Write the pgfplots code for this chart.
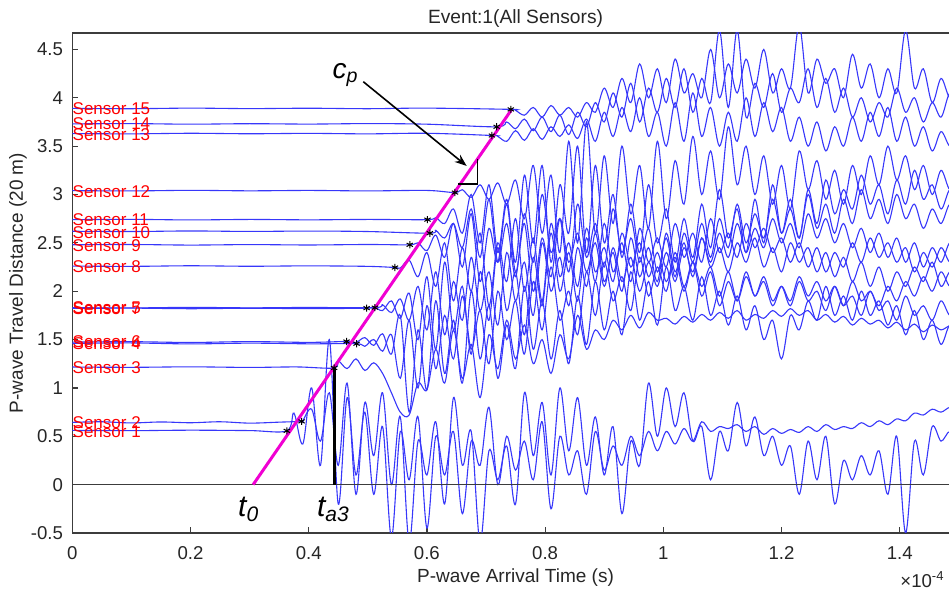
\documentclass[border=0pt]{standalone}
\usepackage{fontspec}
\setmainfont{Liberation Sans}
\usepackage{pgfplots}
\pgfplotsset{compat=1.18}
\usetikzlibrary{arrows.meta}
\definecolor{trace}{RGB}{55,55,250}
\definecolor{magline}{RGB}{240,0,210}
\definecolor{axgray}{RGB}{60,60,60}
\tikzset{tr/.style={trace,line width=0.55pt,smooth,tension=0.55}}
\begin{document}
\begin{tikzpicture}
\begin{axis}[
 at={(0,0)},anchor=south west,
 width=443.25pt,height=250pt,scale only axis,
 xmin=0,xmax=1.5,ymin=-0.5,ymax=4.67,
 xtick={0,0.2,0.4,0.6,0.8,1,1.2,1.4},
 xticklabels={0,0.2,0.4,0.6,0.8,1,1.2,1.4},
 ytick={-0.5,0,0.5,1,1.5,2,2.5,3,3.5,4,4.5},
 yticklabels={-0.5,0,0.5,1,1.5,2,2.5,3,3.5,4,4.5},
 tick align=inside, tick pos=left,
 major tick length=3pt,
 axis line style={axgray,line width=0.7pt},
 tick style={axgray,line width=0.6pt},
 tick label style={font=\fontsize{9.3}{10}\selectfont,text=black!85,inner sep=0pt},
 x tick label style={anchor=base,yshift=-13.5pt},
 y tick label style={anchor=east,xshift=-4.5pt},
 title={Event:1(All Sensors)},
 title style={at={(axis description cs:0.5,1)},anchor=base,inner sep=0pt,yshift=-1.5pt,font=\fontsize{9.6}{10}\selectfont,text=black!85},
 xlabel={P-wave Arrival Time (s)},
 xlabel style={at={(axis description cs:0.5,0)},anchor=base,inner sep=0pt,yshift=-25pt,font=\fontsize{9.5}{10}\selectfont,text=black!85},
 ylabel={P-wave Travel Distance (20 m)},
 ylabel style={at={(axis description cs:-0.0613,0.5)},anchor=center,inner sep=0pt,font=\fontsize{9.5}{10}\selectfont,text=black!85},
]
% Sensor 1
\addplot[tr] coordinates {(0,0.561)(0.1,0.558)(0.2,0.563)(0.3,0.559)(0.363,0.556)
(0.375,0.74)(0.39,0.42)(0.405,1.0)(0.42,0.2)(0.435,1.5)(0.45,-0.2)(0.465,0.9)(0.48,0.1)(0.495,0.75)(0.51,-0.1)(0.525,0.6)(0.54,-0.55)(0.555,0.55)(0.57,0.05)(0.585,0.7)(0.6,-0.45)(0.615,0.5)(0.63,0.1)(0.645,0.55)(0.66,-0.3)(0.675,0.45)(0.69,0.2)(0.705,0.8)(0.72,0.0)(0.735,0.5)(0.75,0.15)(0.765,0.45)(0.78,0.05)(0.795,0.65)(0.81,-0.25)(0.825,0.5)(0.84,0.1)(0.855,0.35)(0.87,-0.1)(0.885,0.55)(0.9,0.15)(0.915,0.4)(0.93,0.2)(0.945,0.5)(0.96,0.3)(0.975,0.55)(0.99,0.35)(1.005,0.55)(1.02,0.42)(1.035,0.58)(1.05,0.45)(1.065,0.65)(1.08,0.55)(1.095,0.6)(1.11,0.58)(1.125,0.62)(1.14,0.55)(1.155,0.6)(1.17,0.52)(1.185,0.58)(1.2,0.53)(1.215,0.57)(1.23,0.54)(1.245,0.6)(1.26,0.55)(1.275,0.62)(1.29,0.57)(1.305,0.6)(1.32,0.58)(1.335,0.64)(1.35,0.6)(1.365,0.66)(1.38,0.62)(1.395,0.68)(1.41,0.66)(1.425,0.74)(1.44,0.72)(1.455,0.78)(1.47,0.75)(1.485,0.8)(1.5,0.78)};
% Sensor 2
\addplot[tr] coordinates {(0,0.644)(0.05,0.65)(0.1,0.638)(0.15,0.648)(0.2,0.64)(0.25,0.65)(0.3,0.636)(0.35,0.646)(0.388,0.654)
(0.39,0.66)(0.405,0.78)(0.42,0.45)(0.435,0.95)(0.45,0.2)(0.465,1.05)(0.48,-0.1)(0.495,0.85)(0.51,0.3)(0.525,0.95)(0.54,0.0)(0.555,0.7)(0.57,-0.6)(0.585,0.45)(0.6,0.1)(0.615,0.65)(0.63,-0.2)(0.645,0.9)(0.66,0.2)(0.675,0.55)(0.69,-0.6)(0.705,0.35)(0.72,0.05)(0.735,0.4)(0.75,-0.2)(0.765,0.95)(0.78,0.3)(0.795,0.85)(0.81,0.1)(0.825,1.0)(0.84,0.35)(0.855,0.9)(0.87,0.2)(0.885,0.7)(0.9,0.1)(0.915,0.6)(0.93,-0.3)(0.945,0.45)(0.96,0.2)(0.975,1.05)(0.99,0.5)(1.005,1.0)(1.02,0.6)(1.035,0.95)(1.05,0.45)(1.065,0.6)(1.08,0.05)(1.095,0.55)(1.11,0.35)(1.125,0.85)(1.14,0.4)(1.155,0.7)(1.17,0.3)(1.185,0.5)(1.2,0.2)(1.215,0.4)(1.23,-0.1)(1.245,0.45)(1.26,0.05)(1.275,0.5)(1.29,-0.2)(1.305,0.25)(1.32,0.05)(1.335,0.3)(1.35,0.1)(1.365,0.35)(1.38,-0.1)(1.395,0.5)(1.41,-0.5)(1.425,0.45)(1.44,0.1)(1.455,0.6)(1.47,0.45)(1.485,0.55)(1.5,0.4)};
% Sensor 3
\addplot[tr] coordinates {(0,1.216)(0.1,1.213)(0.2,1.218)(0.3,1.212)(0.38,1.217)(0.443,1.206)
(0.45,1.28)(0.465,1.2)(0.48,1.3)(0.495,1.18)(0.51,1.26)(0.525,1.15)(0.54,0.95)(0.555,0.75)(0.57,0.72)(0.585,1.05)(0.6,0.98)(0.615,1.4)(0.63,1.05)(0.645,1.6)(0.66,1.1)(0.675,1.45)(0.69,0.9)(0.705,1.55)(0.72,1.2)(0.735,1.7)(0.75,1.3)(0.765,1.65)(0.78,1.25)(0.795,1.5)(0.81,1.15)(0.825,1.55)(0.84,1.3)(0.855,1.75)(0.87,1.4)(0.885,1.6)(0.9,1.5)(0.915,1.7)(0.93,1.6)(0.945,1.75)(0.96,1.62)(0.975,1.78)(0.99,1.7)(1.005,1.72)(1.02,1.66)(1.035,1.74)(1.05,1.68)(1.065,1.76)(1.08,1.7)(1.095,1.78)(1.11,1.72)(1.125,1.8)(1.14,1.7)(1.155,1.76)(1.17,1.72)(1.185,1.8)(1.2,1.74)(1.215,1.82)(1.23,1.75)(1.245,1.8)(1.26,1.7)(1.275,1.76)(1.29,1.68)(1.305,1.74)(1.32,1.65)(1.335,1.72)(1.35,1.66)(1.365,1.7)(1.38,1.62)(1.395,1.68)(1.41,1.6)(1.425,1.66)(1.44,1.58)(1.455,1.65)(1.47,1.6)(1.485,1.64)(1.5,1.6)};
% Sensor 4
\addplot[tr] coordinates {(0,1.46)(0.1,1.465)(0.2,1.455)(0.3,1.463)(0.4,1.456)(0.481,1.457)
(0.495,1.43)(0.51,1.5)(0.525,1.38)(0.54,1.55)(0.555,1.1)(0.57,1.7)(0.585,1.0)(0.6,1.85)(0.615,1.2)(0.63,1.75)(0.645,1.3)(0.66,1.95)(0.675,1.4)(0.69,1.8)(0.705,1.25)(0.72,2.0)(0.735,1.5)(0.75,1.9)(0.765,1.35)(0.78,2.1)(0.795,1.6)(0.81,2.25)(0.825,1.7)(0.84,2.0)(0.855,1.55)(0.87,2.2)(0.885,1.75)(0.9,2.3)(0.915,1.9)(0.93,2.15)(0.945,1.8)(0.96,2.35)(0.975,1.95)(0.99,2.25)(1.005,2.0)(1.02,2.4)(1.035,2.05)(1.05,2.3)(1.065,1.95)(1.08,2.2)(1.095,1.85)(1.11,2.1)(1.125,1.9)(1.14,2.2)(1.155,1.95)(1.17,2.15)(1.185,1.9)(1.2,2.05)(1.215,1.85)(1.23,2.1)(1.245,1.9)(1.26,2.0)(1.275,1.8)(1.29,2.05)(1.305,1.85)(1.32,1.95)(1.335,1.75)(1.35,2.0)(1.365,1.8)(1.38,1.9)(1.395,1.7)(1.41,1.95)(1.425,1.75)(1.44,1.85)(1.455,1.7)(1.47,1.9)(1.485,1.75)(1.5,1.85)};
% Sensor 5
\addplot[tr] coordinates {(0,1.83)(0.1,1.827)(0.2,1.833)(0.3,1.828)(0.4,1.832)(0.512,1.83)
(0.525,1.86)(0.54,1.78)(0.555,1.92)(0.57,1.7)(0.585,2.05)(0.6,1.6)(0.615,2.2)(0.63,1.55)(0.645,2.1)(0.66,1.7)(0.675,2.35)(0.69,1.8)(0.705,2.2)(0.72,1.65)(0.735,2.4)(0.75,1.9)(0.765,2.3)(0.78,1.75)(0.795,2.5)(0.81,2.0)(0.825,2.35)(0.84,1.85)(0.855,2.45)(0.87,2.05)(0.885,2.6)(0.9,2.1)(0.915,2.4)(0.93,2.0)(0.945,2.55)(0.96,2.15)(0.975,2.45)(0.99,2.1)(1.005,2.6)(1.02,2.2)(1.035,2.5)(1.05,2.15)(1.065,2.55)(1.08,2.25)(1.095,2.45)(1.11,2.2)(1.125,2.5)(1.14,2.3)(1.155,2.55)(1.17,2.25)(1.185,2.45)(1.2,2.2)(1.215,2.5)(1.23,2.3)(1.245,2.45)(1.26,2.2)(1.275,2.4)(1.29,2.15)(1.305,2.35)(1.32,2.1)(1.335,2.3)(1.35,2.05)(1.365,2.25)(1.38,2.0)(1.395,2.2)(1.41,2.05)(1.425,2.25)(1.44,2.1)(1.455,2.3)(1.47,2.05)(1.485,2.2)(1.5,2.1)};
% Sensor 6
\addplot[tr] coordinates {(0,1.474)(0.1,1.478)(0.2,1.47)(0.3,1.479)(0.4,1.471)(0.464,1.48)
(0.48,1.47)(0.495,1.52)(0.51,1.44)(0.525,1.56)(0.54,1.35)(0.555,1.75)(0.57,0.75)(0.585,1.6)(0.6,0.98)(0.615,1.9)(0.63,1.15)(0.645,1.7)(0.66,1.05)(0.675,2.0)(0.69,1.3)(0.705,1.85)(0.72,1.1)(0.735,1.65)(0.75,1.2)(0.765,2.05)(0.78,1.4)(0.795,1.9)(0.81,1.3)(0.825,1.8)(0.84,1.25)(0.855,1.95)(0.87,1.45)(0.885,2.1)(0.9,1.6)(0.915,2.0)(0.93,1.55)(0.945,2.2)(0.96,1.7)(0.975,2.1)(0.99,1.65)(1.005,2.25)(1.02,1.8)(1.035,2.05)(1.05,1.7)(1.065,2.15)(1.08,1.75)(1.095,2.0)(1.11,1.65)(1.125,1.95)(1.14,1.6)(1.155,1.85)(1.17,1.5)(1.185,1.7)(1.2,1.3)(1.215,1.75)(1.23,1.6)(1.245,1.9)(1.26,1.7)(1.275,2.05)(1.29,1.75)(1.305,1.95)(1.32,1.7)(1.335,2.0)(1.35,1.75)(1.365,1.9)(1.38,1.65)(1.395,1.85)(1.41,1.55)(1.425,1.8)(1.44,1.5)(1.455,1.7)(1.47,1.45)(1.485,1.65)(1.5,1.5)};
% Sensor 7
\addplot[tr] coordinates {(0,1.822)(0.1,1.825)(0.2,1.819)(0.3,1.824)(0.4,1.82)(0.498,1.825)
(0.51,1.84)(0.525,1.8)(0.54,1.9)(0.555,1.72)(0.57,1.98)(0.585,1.5)(0.6,2.15)(0.615,1.4)(0.63,2.3)(0.645,1.6)(0.66,2.05)(0.675,1.35)(0.69,2.2)(0.705,1.7)(0.72,2.45)(0.735,1.8)(0.75,2.2)(0.765,1.55)(0.78,2.35)(0.795,1.85)(0.81,2.6)(0.825,2.0)(0.84,2.4)(0.855,1.9)(0.87,2.55)(0.885,2.1)(0.9,2.7)(0.915,2.2)(0.93,2.5)(0.945,2.1)(0.96,2.65)(0.975,2.3)(0.99,2.55)(1.005,2.25)(1.02,2.7)(1.035,2.35)(1.05,2.6)(1.065,2.3)(1.08,2.75)(1.095,2.4)(1.11,2.6)(1.125,2.35)(1.14,2.7)(1.155,2.45)(1.17,2.65)(1.185,2.4)(1.2,2.55)(1.215,2.3)(1.23,2.5)(1.245,2.25)(1.26,2.45)(1.275,2.2)(1.29,2.4)(1.305,2.25)(1.32,2.5)(1.335,2.3)(1.35,2.55)(1.365,2.35)(1.38,2.5)(1.395,2.3)(1.41,2.45)(1.425,2.2)(1.44,2.4)(1.455,2.25)(1.47,2.45)(1.485,2.3)(1.5,2.4)};
% Sensor 8
\addplot[tr] coordinates {(0,2.26)(0.1,2.257)(0.2,2.263)(0.3,2.258)(0.4,2.262)(0.5,2.257)(0.546,2.245)
(0.555,2.24)(0.57,2.32)(0.585,2.15)(0.6,2.4)(0.615,2.05)(0.63,2.5)(0.645,1.9)(0.66,2.45)(0.675,2.0)(0.69,2.6)(0.705,1.85)(0.72,2.5)(0.735,2.1)(0.75,2.75)(0.765,2.0)(0.78,2.55)(0.795,1.9)(0.81,2.7)(0.825,2.15)(0.84,2.5)(0.855,2.05)(0.87,2.65)(0.885,2.2)(0.9,2.45)(0.915,2.1)(0.93,2.6)(0.945,2.25)(0.96,2.5)(0.975,2.15)(0.99,2.4)(1.005,2.1)(1.02,2.35)(1.035,2.0)(1.05,2.3)(1.065,2.05)(1.08,2.25)(1.095,1.95)(1.11,2.2)(1.125,1.9)(1.14,2.15)(1.155,1.95)(1.17,2.1)(1.185,1.85)(1.2,2.05)(1.215,1.9)(1.23,2.15)(1.245,1.95)(1.26,2.1)(1.275,1.9)(1.29,2.05)(1.305,1.85)(1.32,2.1)(1.335,1.9)(1.35,2.0)(1.365,1.85)(1.38,2.05)(1.395,1.9)(1.41,2.1)(1.425,1.95)(1.44,2.15)(1.455,2.0)(1.47,2.2)(1.485,2.05)(1.5,2.15)};
% Sensor 9
\addplot[tr] coordinates {(0,2.48)(0.1,2.483)(0.2,2.477)(0.3,2.482)(0.4,2.478)(0.5,2.483)(0.571,2.48)
(0.585,2.5)(0.6,2.42)(0.615,2.58)(0.63,2.35)(0.645,2.7)(0.66,2.25)(0.675,2.8)(0.69,2.1)(0.705,2.65)(0.72,2.3)(0.735,2.9)(0.75,2.2)(0.765,2.7)(0.78,2.0)(0.795,2.55)(0.81,2.15)(0.825,2.75)(0.84,2.3)(0.855,2.6)(0.87,2.2)(0.885,2.5)(0.9,2.05)(0.915,2.45)(0.93,2.1)(0.945,2.35)(0.96,2.0)(0.975,2.3)(0.99,2.05)(1.005,2.4)(1.02,2.1)(1.035,2.45)(1.05,2.2)(1.065,2.55)(1.08,2.3)(1.095,2.6)(1.11,2.35)(1.125,2.7)(1.14,2.4)(1.155,2.65)(1.17,2.45)(1.185,2.75)(1.2,2.5)(1.215,2.7)(1.23,2.45)(1.245,2.8)(1.26,2.55)(1.275,2.75)(1.29,2.5)(1.305,2.7)(1.32,2.45)(1.335,2.65)(1.35,2.4)(1.365,2.6)(1.38,2.35)(1.395,2.55)(1.41,2.3)(1.425,2.5)(1.44,2.25)(1.455,2.45)(1.47,2.3)(1.485,2.5)(1.5,2.35)};
% Sensor 10
\addplot[tr] coordinates {(0,2.62)(0.1,2.617)(0.2,2.623)(0.3,2.618)(0.4,2.622)(0.5,2.617)(0.605,2.6)
(0.615,2.63)(0.63,2.55)(0.645,2.7)(0.66,2.45)(0.675,2.85)(0.69,2.35)(0.705,2.95)(0.72,2.3)(0.735,2.7)(0.75,2.15)(0.765,2.8)(0.78,2.3)(0.795,3.0)(0.81,2.4)(0.825,2.75)(0.84,2.2)(0.855,2.9)(0.87,2.35)(0.885,2.7)(0.9,2.25)(0.915,2.85)(0.93,2.4)(0.945,2.75)(0.96,2.3)(0.975,2.65)(0.99,2.2)(1.005,2.55)(1.02,2.15)(1.035,2.6)(1.05,2.3)(1.065,2.7)(1.08,2.35)(1.095,2.75)(1.11,2.45)(1.125,2.9)(1.14,2.5)(1.155,2.8)(1.17,2.55)(1.185,2.95)(1.2,2.6)(1.215,2.85)(1.23,2.55)(1.245,3.0)(1.26,2.65)(1.275,2.9)(1.29,2.6)(1.305,2.95)(1.32,2.7)(1.335,3.05)(1.35,2.75)(1.365,2.95)(1.38,2.7)(1.395,3.0)(1.41,2.75)(1.425,2.9)(1.44,2.65)(1.455,2.85)(1.47,2.7)(1.485,2.9)(1.5,2.75)};
% Sensor 11
\addplot[tr] coordinates {(0,2.74)(0.1,2.743)(0.2,2.737)(0.3,2.742)(0.4,2.738)(0.5,2.742)(0.601,2.74)
(0.615,2.76)(0.63,2.7)(0.645,2.85)(0.66,2.6)(0.675,3.0)(0.69,2.5)(0.705,3.1)(0.72,2.4)(0.735,2.95)(0.75,2.3)(0.765,3.2)(0.78,2.5)(0.795,3.3)(0.81,2.3)(0.825,3.1)(0.84,2.6)(0.855,3.5)(0.87,2.4)(0.885,3.3)(0.9,2.5)(0.915,3.0)(0.93,2.35)(0.945,2.9)(0.96,2.4)(0.975,3.1)(0.99,2.5)(1.005,2.85)(1.02,2.3)(1.035,2.75)(1.05,2.35)(1.065,2.9)(1.08,2.45)(1.095,3.05)(1.11,2.55)(1.125,2.85)(1.14,2.4)(1.155,2.95)(1.17,2.5)(1.185,3.1)(1.2,2.6)(1.215,2.95)(1.23,2.55)(1.245,3.05)(1.26,2.7)(1.275,3.15)(1.29,2.8)(1.305,3.05)(1.32,2.85)(1.335,3.2)(1.35,2.9)(1.365,3.1)(1.38,2.8)(1.395,3.15)(1.41,2.9)(1.425,3.25)(1.44,2.95)(1.455,3.1)(1.47,2.85)(1.485,3.05)(1.5,2.9)};
% Sensor 12
\addplot[tr] coordinates {(0,3.04)(0.1,3.037)(0.2,3.043)(0.3,3.038)(0.4,3.042)(0.5,3.037)(0.6,3.042)(0.6475,3.02)
(0.66,3.05)(0.675,2.97)(0.69,3.1)(0.705,2.95)(0.72,3.12)(0.735,2.9)(0.75,3.15)(0.765,2.75)(0.78,3.3)(0.795,2.6)(0.81,3.2)(0.825,2.4)(0.84,3.55)(0.855,2.5)(0.87,3.75)(0.885,2.6)(0.9,3.4)(0.915,2.7)(0.93,3.5)(0.945,2.8)(0.96,3.3)(0.975,2.65)(0.99,3.55)(1.005,2.75)(1.02,3.35)(1.035,2.9)(1.05,3.6)(1.065,3.0)(1.08,3.45)(1.095,2.95)(1.11,3.7)(1.125,3.1)(1.14,3.5)(1.155,3.0)(1.17,3.4)(1.185,2.9)(1.2,3.3)(1.215,2.85)(1.23,3.45)(1.245,3.05)(1.26,3.35)(1.275,2.95)(1.29,3.25)(1.305,2.9)(1.32,3.3)(1.335,3.0)(1.35,3.4)(1.365,3.1)(1.38,3.5)(1.395,3.15)(1.41,3.4)(1.425,3.05)(1.44,3.3)(1.455,3.0)(1.47,3.25)(1.485,3.05)(1.5,3.2)};
% Sensor 13
\addplot[tr] coordinates {(0,3.63)(0.1,3.627)(0.2,3.633)(0.3,3.628)(0.4,3.632)(0.5,3.627)(0.6,3.633)(0.71,3.61)
(0.72,3.6)(0.735,3.55)(0.75,3.66)(0.765,3.56)(0.78,3.68)(0.795,3.57)(0.81,3.7)(0.825,3.6)(0.84,3.72)(0.855,3.58)(0.87,3.78)(0.885,3.55)(0.9,3.85)(0.915,3.6)(0.93,3.9)(0.945,3.65)(0.96,4.0)(0.975,3.6)(0.99,3.85)(1.005,3.5)(1.02,3.95)(1.035,3.55)(1.05,4.05)(1.065,3.6)(1.08,3.9)(1.095,3.5)(1.11,3.85)(1.125,3.55)(1.14,4.0)(1.155,3.6)(1.17,3.95)(1.185,3.65)(1.2,3.9)(1.215,3.55)(1.23,3.8)(1.245,3.5)(1.26,3.75)(1.275,3.45)(1.29,3.7)(1.305,3.5)(1.32,3.8)(1.335,3.55)(1.35,3.85)(1.365,3.6)(1.38,3.9)(1.395,3.55)(1.41,3.8)(1.425,3.5)(1.44,3.7)(1.455,3.45)(1.47,3.65)(1.485,3.5)(1.5,3.6)};
% Sensor 14
\addplot[tr] coordinates {(0,3.73)(0.1,3.733)(0.2,3.727)(0.3,3.732)(0.4,3.728)(0.5,3.733)(0.6,3.727)(0.718,3.7)
(0.735,3.75)(0.75,3.68)(0.765,3.78)(0.78,3.66)(0.795,3.8)(0.81,3.65)(0.825,3.82)(0.84,3.62)(0.855,3.85)(0.87,3.7)(0.885,3.95)(0.9,3.75)(0.915,4.05)(0.93,3.8)(0.945,4.15)(0.96,3.75)(0.975,4.1)(0.99,3.85)(1.005,4.2)(1.02,3.9)(1.035,4.3)(1.05,3.85)(1.065,4.2)(1.08,3.95)(1.095,4.7)(1.11,3.9)(1.125,4.7)(1.14,3.8)(1.155,4.15)(1.17,3.9)(1.185,4.25)(1.2,3.85)(1.215,4.1)(1.23,3.95)(1.245,4.3)(1.26,3.9)(1.275,4.2)(1.29,3.85)(1.305,4.1)(1.32,3.8)(1.335,4.0)(1.35,3.75)(1.365,3.95)(1.38,3.8)(1.395,4.1)(1.41,3.85)(1.425,4.0)(1.44,3.75)(1.455,3.95)(1.47,3.8)(1.485,4.05)(1.5,3.9)};
% Sensor 15
\addplot[tr] coordinates {(0,3.89)(0.1,3.887)(0.2,3.893)(0.3,3.888)(0.4,3.892)(0.5,3.887)(0.6,3.893)(0.742,3.88)
(0.75,3.87)(0.765,3.82)(0.78,3.9)(0.795,3.8)(0.81,3.92)(0.825,3.82)(0.84,3.9)(0.855,3.8)(0.87,3.95)(0.885,3.85)(0.9,4.1)(0.915,3.9)(0.93,4.2)(0.945,3.95)(0.96,4.35)(0.975,4.0)(0.99,4.3)(1.005,3.95)(1.02,4.4)(1.035,4.05)(1.05,4.25)(1.065,4.0)(1.08,4.5)(1.095,4.0)(1.11,4.35)(1.125,4.05)(1.14,4.4)(1.155,4.1)(1.17,4.5)(1.185,4.05)(1.2,4.3)(1.215,4.1)(1.23,4.75)(1.245,4.05)(1.26,4.4)(1.275,4.15)(1.29,4.3)(1.305,4.0)(1.32,4.45)(1.335,4.1)(1.35,4.35)(1.365,4.0)(1.38,4.3)(1.395,4.05)(1.41,4.7)(1.425,4.1)(1.44,4.3)(1.455,3.95)(1.47,4.2)(1.485,4.0)(1.5,4.15)};
% zero line
\addplot[axgray,line width=0.7pt] coordinates {(0,0)(1.5,0)};
% sensor labels
\begin{scope}[every node/.style={red,anchor=west,inner sep=0pt,font=\fontsize{8.5}{9}\selectfont}]
\node at (axis cs:0,3.89) {Sensor 15};
\node at (axis cs:0,3.735) {Sensor 14};
\node at (axis cs:0,3.62) {Sensor 13};
\node at (axis cs:0,3.03) {Sensor 12};
\node at (axis cs:0,2.74) {Sensor 11};
\node at (axis cs:0,2.61) {Sensor 10};
\node at (axis cs:0,2.47) {Sensor 9};
\node at (axis cs:0,2.25) {Sensor 8};
\node at (axis cs:0,1.835) {Sensor 5};
\node at (axis cs:0,1.815) {Sensor 7};
\node at (axis cs:0,1.455) {Sensor 4};
\node at (axis cs:0,1.475) {Sensor 6};
\node at (axis cs:0,1.21) {Sensor 3};
\node at (axis cs:0,0.645) {Sensor 2};
\node at (axis cs:0,0.55) {Sensor 1};
\end{scope}
% magenta fit line
\addplot[magline,line width=1.5pt] coordinates {(0.306,0)(0.7435,3.88)};
% arrival marks
\addplot[only marks,mark=asterisk,mark size=1.8pt,black,mark options={line width=0.5pt}] coordinates {(0.363,0.556)(0.388,0.654)(0.443,1.206)(0.464,1.48)(0.481,1.457)(0.498,1.825)(0.512,1.83)(0.546,2.245)(0.571,2.48)(0.601,2.74)(0.605,2.6)(0.6475,3.02)(0.71,3.61)(0.718,3.7)(0.742,3.88)};
% t_a3 line
\addplot[black,line width=1.5pt] coordinates {(0.443,0)(0.443,1.206)};
% slope triangle
\addplot[black,line width=0.8pt] coordinates {(0.6531,3.106)(0.6853,3.106)(0.6853,3.365)};
\draw[black,line width=0.8pt,-{Stealth[length=6pt,width=4.5pt]}] (axis cs:0.4924,4.166) -- (axis cs:0.6673,3.295);
\node[anchor=base west,inner sep=0pt,font=\fontsize{14}{14}\selectfont\itshape] at (axis cs:0.44,4.2) {c\textsubscript{p}};
\node[anchor=base west,inner sep=0pt,font=\fontsize{15}{15}\selectfont\itshape] at (axis cs:0.28,-0.33) {t\textsubscript{0}};
\node[anchor=base west,inner sep=0pt,font=\fontsize{15}{15}\selectfont\itshape] at (axis cs:0.4135,-0.33) {t\textsubscript{a3}};
\end{axis}
\node[anchor=base west,inner sep=0pt,font=\fontsize{9.3}{10}\selectfont,text=black!85] at (413.85pt,-27.5pt) {×10\textsuperscript{-4}};
\pgfresetboundingbox
\useasboundingbox (-36.15pt,-30pt) rectangle (438.35pt,266.5pt);
\end{tikzpicture}
\end{document}
